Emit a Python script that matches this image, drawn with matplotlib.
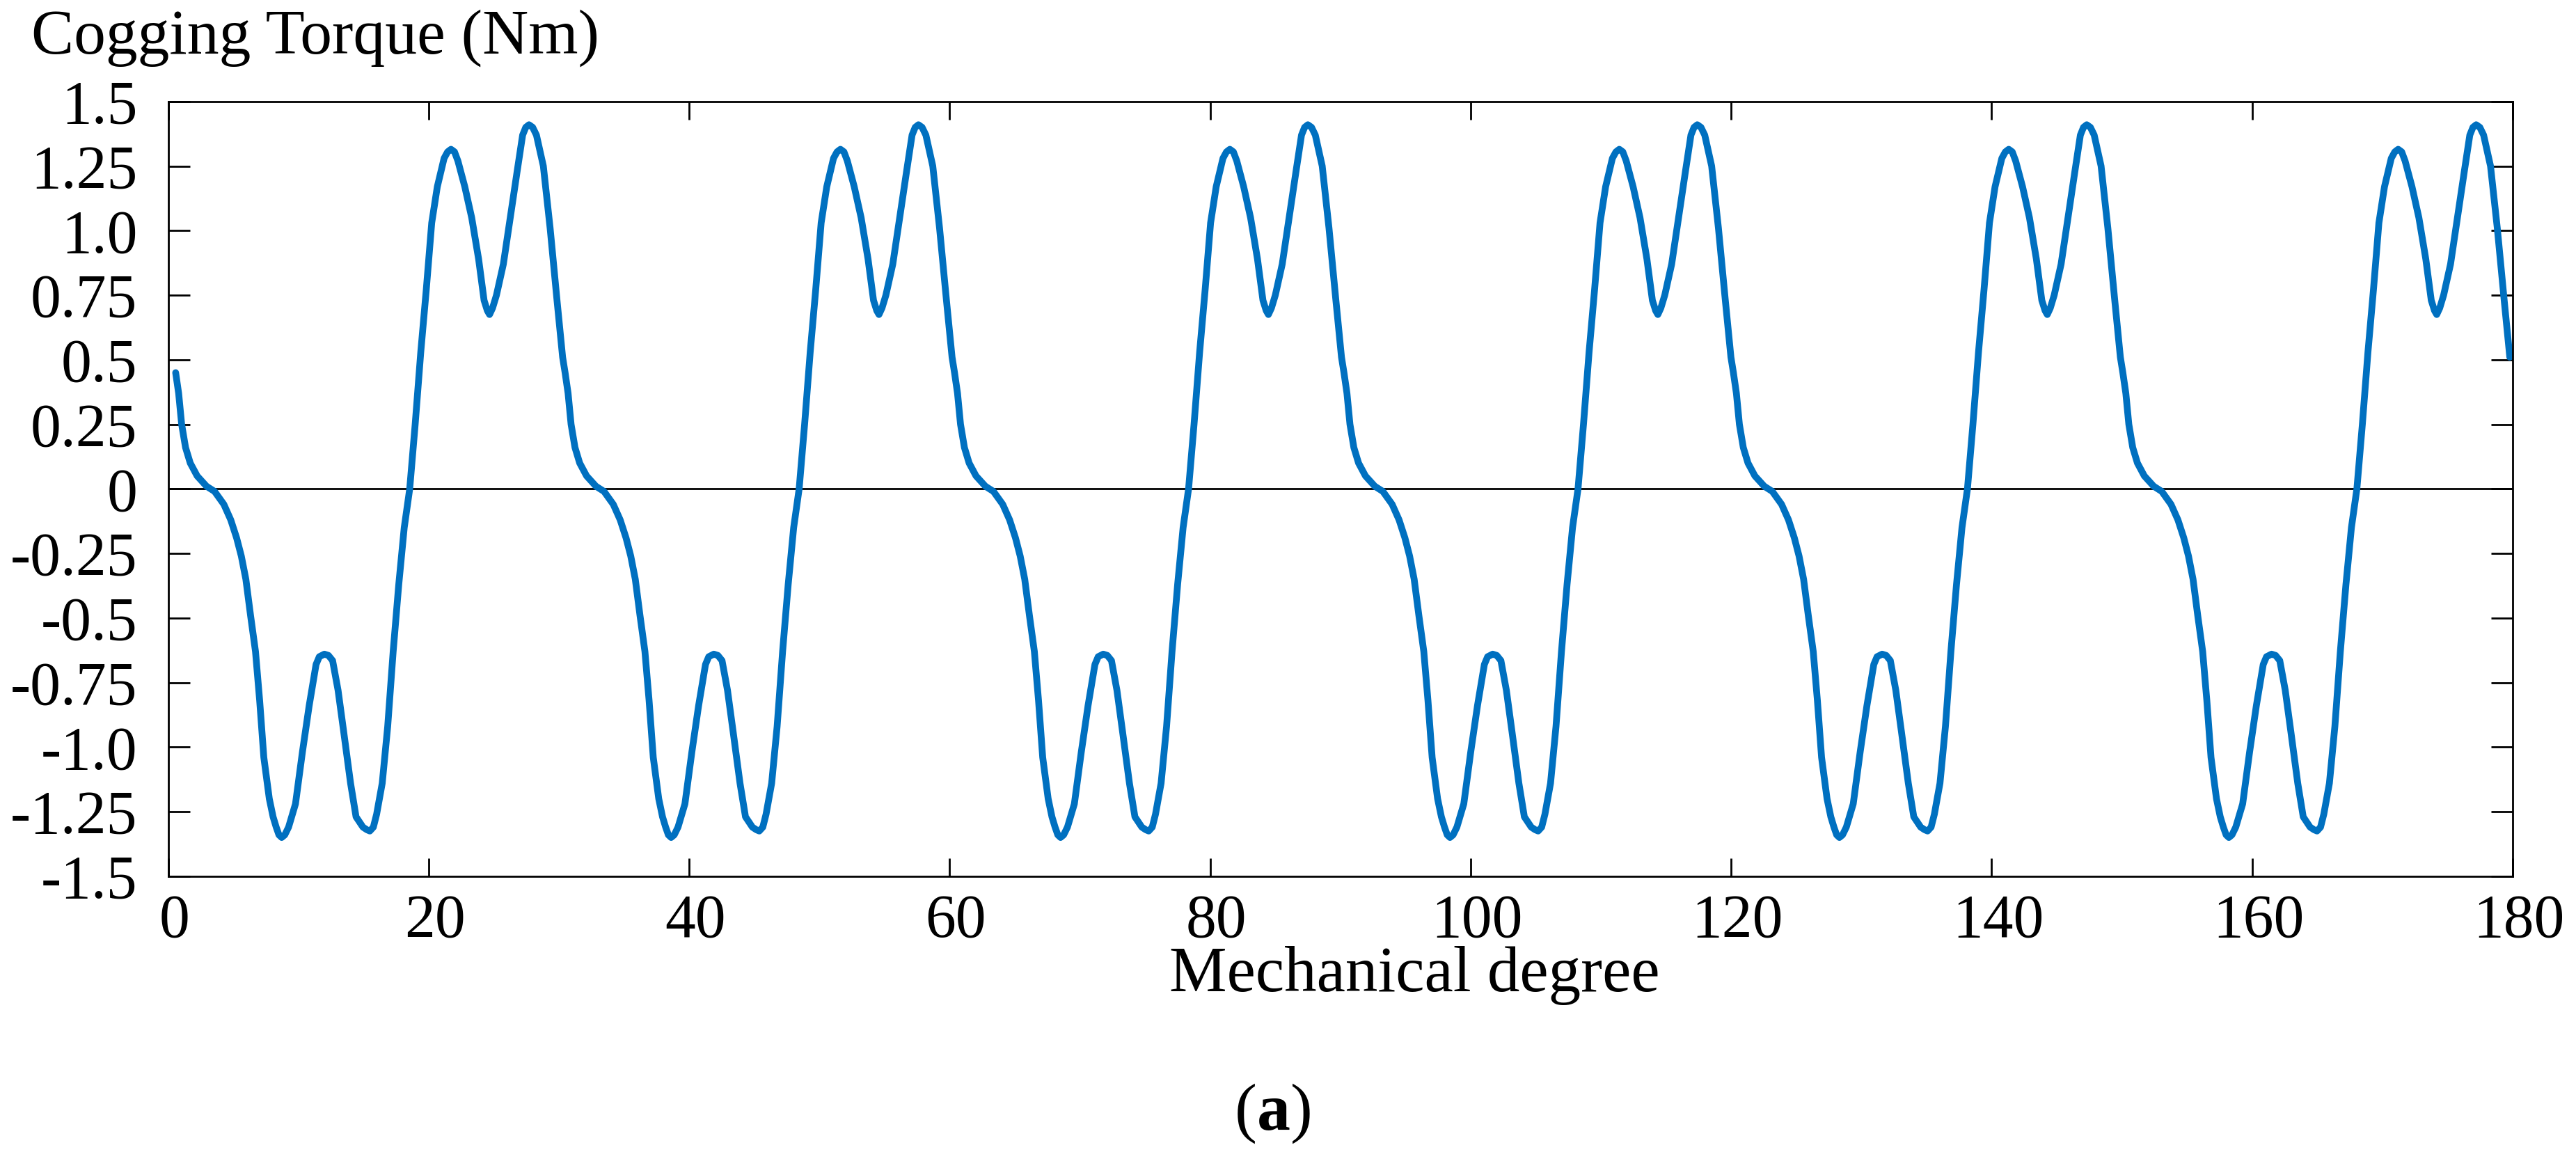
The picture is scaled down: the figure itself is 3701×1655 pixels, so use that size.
import numpy as np
import matplotlib
matplotlib.use('Agg')
import matplotlib.pyplot as plt
import matplotlib.transforms as mtransforms

plt.rcParams['font.family'] = ['Liberation Serif', 'DejaVu Serif']

period_deg = [0.57, 0.80, 1.03, 1.33, 1.69, 2.22, 2.94, 3.56, 4.27, 4.80,
              5.25, 5.61, 5.96, 6.32, 6.70, 7.02, 7.34, 7.76, 8.05, 8.29, 8.50, 8.71, 8.95,
              9.24, 9.77, 10.30, 10.82, 11.35, 11.60, 11.99, 12.30, 12.62, 13.04, 13.47, 14.00,
              14.42, 14.95, 15.25, 15.48, 15.75, 16.00, 16.43, 16.85, 17.27, 17.70, 18.12, 18.54,
              18.96, 19.39, 19.81, 20.23, 20.66, 21.18, 21.45, 21.71, 21.98, 22.24, 22.77, 23.30,
              23.83, 24.25, 24.50, 24.67, 24.90, 25.20, 25.73, 26.26, 26.79, 27.21, 27.45, 27.70,
              27.98, 28.27, 28.80, 29.32, 29.85, 30.28]
period_torque = [0.45, 0.37, 0.25, 0.16, 0.10, 0.05, 0.01, -0.01, -0.06, -0.12,
                 -0.19, -0.26, -0.35, -0.49, -0.63, -0.82, -1.04, -1.20, -1.27, -1.31, -1.34, -1.35, -1.34,
                 -1.31, -1.22, -1.02, -0.84, -0.68, -0.65, -0.64, -0.645, -0.665, -0.78, -0.94, -1.14,
                 -1.27, -1.31, -1.32, -1.325, -1.31, -1.26, -1.14, -0.92, -0.63, -0.37, -0.15, 0.0,
                 0.25, 0.53, 0.77, 1.03, 1.17, 1.28, 1.305, 1.315, 1.305, 1.27, 1.17, 1.05,
                 0.89, 0.73, 0.69, 0.675, 0.70, 0.75, 0.87, 1.05, 1.23, 1.37, 1.40, 1.41,
                 1.40, 1.37, 1.25, 1.01, 0.73, 0.51]
period = 29.9
n_periods = 6

xticks = [0, 20, 40, 60, 80, 100, 120, 140, 160, 180]
yticks = [1.5, 1.25, 1.0, 0.75, 0.5, 0.25, 0, -0.25, -0.5, -0.75, -1.0, -1.25, -1.5]
ytick_labels = ['1.5', '1.25', '1.0', '0.75', '0.5', '0.25', '0',
                '-0.25', '-0.5', '-0.75', '-1.0', '-1.25', '-1.5']

deg = np.concatenate([np.array(period_deg) + k * period for k in range(n_periods)])
torque = np.tile(period_torque, n_periods)

W, H = 3701, 1655
fig = plt.figure(figsize=(W / 100, H / 100), dpi=100)
ax = fig.add_axes([241.7 / W, 1 - 1258.8 / H, (3610 - 241.7) / W, (1258.8 - 145.8) / H])

ax.axhline(0, color='black', lw=2, zorder=1)
ax.plot(deg, torque, color='#0070c0', lw=7, solid_joinstyle='round',
        solid_capstyle='round', zorder=2)

ax.set_xlim(0, 180)
ax.set_ylim(-1.5, 1.5)
ax.set_xticks(xticks)
ax.set_yticks(yticks)
ax.set_yticklabels(ytick_labels)
ax.tick_params(axis='both', direction='in', width=2, top=True, right=True)
ax.tick_params(axis='y', length=22, pad=32, labelsize=63)
ax.tick_params(axis='x', length=19, pad=18, labelsize=63)
for s in ax.spines.values():
    s.set_linewidth(2)

# x tick labels sit a little right of their ticks in the original
shift = mtransforms.ScaledTranslation(0.09, 0, fig.dpi_scale_trans)
for lab in ax.get_xticklabels():
    lab.set_transform(lab.get_transform() + shift)

fig.text(45 / W, 1 - 77 / H, 'Cogging Torque (Nm)', fontsize=66, ha='left', va='baseline')
fig.text(2032 / W, 1 - 1424 / H, 'Mechanical degree', fontsize=67, ha='center', va='baseline')
fig.text(1774 / W, 1 - 1623 / H, '(', fontsize=69, ha='left', va='baseline')
fig.text(1806 / W, 1 - 1623 / H, 'a', fontsize=69, fontweight='bold', ha='left', va='baseline')
fig.text(1854 / W, 1 - 1623 / H, ')', fontsize=69, ha='left', va='baseline')

fig.savefig('out.png', dpi=100)
